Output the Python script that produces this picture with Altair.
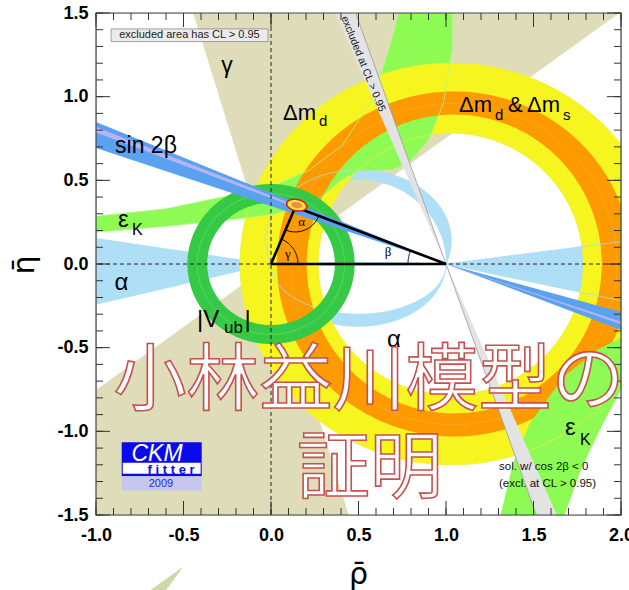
import numpy as np
import pandas as pd
import altair as alt

W, H = 525, 502
RHO_DOMAIN = [-1.0, 2.0]
ETA_DOMAIN = [-1.5, 1.5]
X_LABELS = [-1.0, -0.5, 0.0, 0.5, 1.0, 1.5, 2.0]
Y_LABELS = [-1.5, -1.0, -0.5, 0.0, 0.5, 1.0, 1.5]
X_MINOR = list(np.round(np.arange(-1.0, 2.001, 0.1), 1))
Y_MINOR = list(np.round(np.arange(-1.5, 1.501, 0.1), 1))

# colours
C_GAMMA = '#dfdcb9'
C_ALPHA = '#aedff7'
C_DMD = '#f6f520'
C_DMS = '#fd9a00'
C_EPS = '#8dfb53'
C_VUB = '#35c945'
C_S2B = '#5aa2f0'
C_S2B_IN = '#b4b4f6'
C_GRAY = '#e3e3e3'

# constraint shapes
GAMMA_EDGES = [37.0, 106.5]            # wedge from (0,0), mirrored by +180
DMD_OUTER = [1.03, 1.207, 1.20]        # centre rho, half-axis rho, half-axis eta
DMD_INNER = [1.027, 0.757, 0.782]
DMS_OUTER = [1.047, 1.013, 1.031]
DMS_INNER = [1.047, 0.843, 0.893]
DMD_TOP_ARC = [45.0, 125.0]
VUB_RADII = [0.365, 0.478]
S2B_LEFT = [19.1, 23.0]                # wedge through (1,0), upper-left side
S2B_RIGHT = [16.0, 21.5]               # lower-right side
S2B_CORE_LEFT = [21.45, 22.25]
S2B_CORE_RIGHT = [19.0, 19.8]
COS2B_EDGES = [109.0, 112.9]
# eps_K bands: edge points (rho, eta)
EPSK_UP_TOP_RHO = [-1.05, -1.0, -0.6, -0.234, 0.0, 0.217, 0.408, 0.579, 0.674, 0.731, 0.75]
EPSK_UP_TOP_ETA = [0.28, 0.285, 0.33, 0.41, 0.46, 0.56, 0.71, 0.981, 1.279, 1.504, 1.6]
EPSK_UP_BOT_RHO = [1.05, 1.036, 1.036, 0.985, 0.90, 0.80, 0.70, 0.60, 0.50, 0.40, 0.30, 0.217, 0.0, -0.234, -0.6, -1.0, -1.05]
EPSK_UP_BOT_ETA = [1.6, 1.504, 1.279, 0.96, 0.74, 0.62, 0.565, 0.56, 0.555, 0.50, 0.41, 0.35, 0.295, 0.264, 0.225, 0.19, 0.186]
EPSK_LO_A_RHO = [1.29, 1.31, 1.383, 1.48, 1.674, 1.869, 2.0, 2.05]
EPSK_LO_A_ETA = [-1.6, -1.51, -1.19, -0.95, -0.673, -0.51, -0.44, -0.42]
EPSK_LO_B_RHO = [2.05, 2.0, 1.88, 1.771, 1.674, 1.65]
EPSK_LO_B_ETA = [-0.72, -0.75, -0.989, -1.228, -1.51, -1.6]
ALPHA_LEFT = [171.2, 193.7]            # wedge from (0,0)
ALPHA_RIGHT = [-12.4, 7.6]             # wedge from (1,0)
ALPHA_UP_OUT = [0.5, 0.14, 0.53, 0.4228]   # centre rho, centre eta, half-axes
ALPHA_UP_IN = [0.5, 0.003, 0.5, 0.5]
ALPHA_LO_OUT = [0.5, 0.0, 0.5, 0.375]
ALPHA_LO_IN = [0.5, 0.0, 0.5, 0.300]
ALPHA_LENS = [0.5, 0.0, 0.5, 0.012]
APEX = [0.139, 0.341]
FIT_ELLIPSE = [0.147, 0.352, 0.058, 0.034, -12.0]
FIT_CORE = [0.147, 0.352, 0.032, 0.018, -12.0]

xs = alt.Scale(domain=RHO_DOMAIN, nice=False, zero=False)
ys = alt.Scale(domain=ETA_DOMAIN, nice=False, zero=False)
LBL = "replace(datum.label, '\u2212', '-')"
xaxis = alt.Axis(values=X_LABELS, format='.1f', labelExpr=LBL, ticks=False, tickSize=0, domain=False,
                 grid=False, labelFont='Liberation Sans', labelFontWeight='bold', labelFontSize=18,
                 labelColor='black', labelPadding=11, labelFlush=False, labelOverlap=False,
                 title='\u03c1\u0304', titleFont='DejaVu Sans', titleFontSize=30,
                 titleFontWeight='normal', titleColor='black', titleX=262, titleY=68,
                 titleBaseline='alphabetic', titleAlign='center')
yaxis = alt.Axis(values=Y_LABELS, format='.1f', labelExpr=LBL, ticks=False, tickSize=0, domain=False,
                 grid=False, labelFont='Liberation Sans', labelFontWeight='bold', labelFontSize=18,
                 labelColor='black', labelPadding=8, labelFlush=False, labelOverlap=False, title='')


def X(f='x'):
    return alt.X(f, type='quantitative', scale=xs, axis=xaxis)


def Y(f='y'):
    return alt.Y(f, type='quantitative', scale=ys, axis=yaxis)


def frame(pts):
    pts = np.asarray(pts, dtype=float)
    return pd.DataFrame({'x': pts[:, 0], 'y': pts[:, 1], 'i': np.arange(len(pts))})


def wedge(apex, a1, a2, R=4.0):
    t = np.radians(np.linspace(a1, a2, 12))
    return [apex] + [[apex[0] + R * np.cos(v), apex[1] + R * np.sin(v)] for v in t]


def ell(p, t):
    c, a, b = p
    return np.column_stack([c + a * np.cos(t), b * np.sin(t)])


def ring(outer, inner, t1=0.0, t2=360.0, n=360):
    t = np.radians(np.linspace(t1, t2, n))
    return np.vstack([ell(outer, t), ell(inner, t[::-1])])


def circ(r, n=360):
    t = np.radians(np.linspace(0, 360, n))
    return np.column_stack([r * np.cos(t), r * np.sin(t)])


def vring(r1, r2):
    return np.vstack([circ(r2), circ(r1)[::-1]])


def arc_through(p, upper=True, n=160):
    xc, yc, a, b = p
    t1 = np.arctan2(-yc / b, (1 - xc) / a)
    t2 = np.arctan2(-yc / b, (0 - xc) / a)
    if upper and t2 < t1:
        t2 += 2 * np.pi
    if (not upper) and t2 > t1:
        t2 -= 2 * np.pi
    t = np.linspace(t1, t2, n)
    return np.column_stack([xc + a * np.cos(t), yc + b * np.sin(t)])


def band_through(po, pi, upper=True):
    return np.vstack([arc_through(po, upper), arc_through(pi, upper)[::-1]])


def ellipse_rot(p, n=80):
    cx, cy, a, b, ang = p
    t = np.linspace(0, 2 * np.pi, n)
    ca, sa = np.cos(np.radians(ang)), np.sin(np.radians(ang))
    x = a * np.cos(t)
    y = b * np.sin(t)
    return np.column_stack([cx + x * ca - y * sa, cy + x * sa + y * ca])


def pts2(r, e):
    return np.column_stack([r, e])


layers = []


def poly(pts, color, stroke=None, sw=0.0, clip=True, interp='linear'):
    kw = dict(fill=color, clip=clip, interpolate=interp)
    if stroke is None:
        kw['strokeOpacity'] = 0
    else:
        kw['stroke'] = stroke
        kw['strokeWidth'] = sw
    layers.append(alt.Chart(frame(pts)).mark_line(**kw).encode(x=X(), y=Y(), order='i:Q'))


def pline(pts, color, sw=1.0, dash=None, clip=True, interp='linear', op=1.0):
    kw = dict(color=color, strokeWidth=sw, clip=clip, interpolate=interp, opacity=op)
    if dash:
        kw['strokeDash'] = dash
    layers.append(alt.Chart(frame(pts)).mark_line(**kw).encode(x=X(), y=Y(), order='i:Q'))


o = [0.0, 0.0]
b0 = [1.0, 0.0]
eps_up = np.vstack([pts2(EPSK_UP_TOP_RHO, EPSK_UP_TOP_ETA), pts2(EPSK_UP_BOT_RHO, EPSK_UP_BOT_ETA)])
eps_lo = np.vstack([pts2(EPSK_LO_A_RHO, EPSK_LO_A_ETA), pts2(EPSK_LO_B_RHO, EPSK_LO_B_ETA)])
alpha_up = band_through(ALPHA_UP_OUT, ALPHA_UP_IN, True)
alpha_lo = band_through(ALPHA_LO_OUT, ALPHA_LO_IN, False)

# gamma
poly(wedge(o, GAMMA_EDGES[0], GAMMA_EDGES[1]), C_GAMMA)
poly(wedge(o, GAMMA_EDGES[0] + 180, GAMMA_EDGES[1] + 180), C_GAMMA)
# alpha
poly(wedge(o, ALPHA_LEFT[0], ALPHA_LEFT[1]), C_ALPHA)
poly(wedge(b0, ALPHA_RIGHT[0], ALPHA_RIGHT[1]), C_ALPHA)
poly(alpha_up, C_ALPHA)
poly(alpha_lo, C_ALPHA)
poly(np.vstack([arc_through(ALPHA_LENS, True), arc_through(ALPHA_LENS, False)[::-1]]), C_ALPHA)
# delta m_d
poly(ring(DMD_OUTER, DMD_INNER), C_DMD)
# eps_K upper branch
poly(eps_up, C_EPS)
# yellow outer strip over eps_K at the top
poly(ring(DMD_OUTER, [DMS_OUTER[0], 0.95, 0.97], DMD_TOP_ARC[0], DMD_TOP_ARC[1], 120), C_DMD)
# delta m_d & delta m_s
poly(ring(DMS_OUTER, DMS_INNER), C_DMS)
# eps_K lower branch
poly(eps_lo, C_EPS)

# thin contour lines drawn over the bands
t360 = np.radians(np.linspace(0, 360, 360))
pline(ell(DMD_OUTER, t360), '#eeee40', 0.8)
pline(ell(DMD_INNER, t360), '#eeee40', 0.8)
pline(ell([DMS_OUTER[0], 0.93, 0.96], t360), '#f7b040', 0.7, op=0.8)
pline(pts2(EPSK_UP_TOP_RHO, EPSK_UP_TOP_ETA), '#b4f58a', 0.8)
pline(pts2(EPSK_UP_BOT_RHO, EPSK_UP_BOT_ETA), '#b4f58a', 0.8)
pline(arc_through(ALPHA_UP_OUT, True), '#a8dcf6', 0.8)
pline(arc_through(ALPHA_LO_IN, False), '#a8dcf6', 0.8)
pline([[1, 0], [1 + 4 * np.cos(np.radians(ALPHA_RIGHT[1])), 4 * np.sin(np.radians(ALPHA_RIGHT[1]))]], '#a8dcf6', 0.8)
pline([[1, 0], [1 + 4 * np.cos(np.radians(ALPHA_RIGHT[0])), 4 * np.sin(np.radians(ALPHA_RIGHT[0]))]], '#a8dcf6', 0.8)

# cos 2beta < 0 solution (grey)
poly(wedge(b0, COS2B_EDGES[0], COS2B_EDGES[1]), C_GRAY, '#9a9a9a', 0.8)
poly(wedge(b0, COS2B_EDGES[0] - 180, COS2B_EDGES[1] - 180), C_GRAY, '#9a9a9a', 0.8)
# V_ub
poly(vring(VUB_RADII[0], VUB_RADII[1]), C_VUB)
pline(circ(0.42), '#7ee07a', 0.7, op=0.8)
# sin 2 beta
poly(wedge(b0, 180 - S2B_LEFT[1], 180 - S2B_LEFT[0]), C_S2B)
poly(wedge(b0, -S2B_RIGHT[1], -S2B_RIGHT[0]), C_S2B)
poly(wedge(b0, 180 - S2B_CORE_LEFT[1], 180 - S2B_CORE_LEFT[0]), C_S2B_IN)
poly(wedge(b0, -S2B_CORE_RIGHT[1], -S2B_CORE_RIGHT[0]), C_S2B_IN)

# dashed axes
layers.append(alt.Chart(pd.DataFrame({'x': [0.0]})).mark_rule(color='#222', strokeWidth=1, strokeDash=[4, 3]).encode(x=X()))
layers.append(alt.Chart(pd.DataFrame({'y': [0.0]})).mark_rule(color='#222', strokeWidth=1, strokeDash=[4, 3]).encode(y=Y()))

# unitarity triangle
pline([[0, 0], APEX, [1, 0], [0, 0]], 'black', 2.6)
ang_a = np.degrees(np.arctan2(APEX[1], APEX[0]))
t = np.radians(np.linspace(0, ang_a, 30))
pline(np.column_stack([27 / 175 * np.cos(t), 27 / 167.5 * np.sin(t)]), 'black', 1.0)
d1 = np.degrees(np.arctan2(-APEX[1] * 167.5, -APEX[0] * 175))
d2 = np.degrees(np.arctan2(-APEX[1] * 167.5, (1 - APEX[0]) * 175))
t = np.radians(np.linspace(d1, d2, 30))
pline(np.column_stack([APEX[0] + 25 / 175 * np.cos(t), APEX[1] + 25 / 167.5 * np.sin(t)]), 'black', 1.0)
bb = np.degrees(np.arctan2(APEX[1] * 167.5, (APEX[0] - 1) * 175))
t = np.radians(np.linspace(bb, 180, 30))
pline(np.column_stack([1 + 38 / 175 * np.cos(t), 38 / 167.5 * np.sin(t)]), 'black', 1.0)

# fit result
poly(ellipse_rot(FIT_ELLIPSE), '#f4ea30', '#e01818', 1.6)
poly(ellipse_rot(FIT_CORE), '#f08a50')

# boxes
box = pd.DataFrame({'x': [-0.914], 'x2': [-0.017], 'y': [1.405], 'y2': [1.329]})
layers.append(alt.Chart(box).mark_rect(fill='#ebebeb', stroke='#8a8a8a', strokeWidth=0.8).encode(
    x=X(), x2='x2', y=Y(), y2='y2'))
logo = pd.DataFrame({'x': [-0.853, -0.847, -0.853], 'x2': [-0.396, -0.402, -0.396],
                     'y': [-1.065, -1.188, -1.268], 'y2': [-1.268, -1.254, -1.353],
                     'c': ['#0a0aee', '#ffffff', '#c6c6ee']})
layers.append(alt.Chart(logo).mark_rect().encode(x=X(), x2='x2', y=Y(), y2='y2',
                                                 fill=alt.Fill('c:N', scale=None)))

# labels
LABELS = [
    # text, rho, eta, size, font, style, weight, align, color
    ['\u03b3', -0.251, 1.142, 23, 'Liberation Sans', 'normal', 'normal', 'center', 'black'],
    ['\u0394m', 0.069, 0.861, 22, 'Liberation Sans', 'normal', 'normal', 'left', 'black'],
    ['d', 0.274, 0.826, 15, 'Liberation Sans', 'normal', 'normal', 'left', 'black'],
    ['\u0394m', 1.074, 0.909, 22, 'Liberation Sans', 'normal', 'normal', 'left', 'black'],
    ['d', 1.280, 0.861, 15, 'Liberation Sans', 'normal', 'normal', 'left', 'black'],
    ['&', 1.354, 0.909, 22, 'Liberation Sans', 'normal', 'normal', 'left', 'black'],
    ['\u0394m', 1.463, 0.909, 22, 'Liberation Sans', 'normal', 'normal', 'left', 'black'],
    ['s', 1.668, 0.861, 15, 'Liberation Sans', 'normal', 'normal', 'left', 'black'],
    ['sin 2\u03b2', -0.891, 0.665, 23, 'Liberation Sans', 'normal', 'normal', 'left', 'black'],
    ['\u03b5', -0.874, 0.223, 24, 'Liberation Sans', 'normal', 'normal', 'left', 'black'],
    ['K', -0.794, 0.175, 16, 'Liberation Sans', 'normal', 'normal', 'left', 'black'],
    ['\u03b5', 1.680, -1.019, 24, 'Liberation Sans', 'normal', 'normal', 'left', 'black'],
    ['K', 1.766, -1.079, 16, 'Liberation Sans', 'normal', 'normal', 'left', 'black'],
    ['\u03b1', -0.854, -0.153, 24, 'Liberation Sans', 'normal', 'normal', 'center', 'black'],
    ['\u03b1', 0.703, -0.494, 24, 'Liberation Sans', 'normal', 'normal', 'center', 'black'],
    ['|V', -0.423, -0.376, 24, 'Liberation Sans', 'normal', 'normal', 'left', 'black'],
    ['ub', -0.269, -0.412, 17, 'Liberation Sans', 'normal', 'normal', 'left', 'black'],
    ['|', -0.152, -0.376, 24, 'Liberation Sans', 'normal', 'normal', 'left', 'black'],
    ['\u03b3', 0.097, 0.035, 13, 'Liberation Serif', 'normal', 'normal', 'center', 'black'],
    ['\u03b1', 0.175, 0.225, 13, 'Liberation Serif', 'normal', 'normal', 'center', 'black'],
    ['\u03b2', 0.669, 0.045, 13, 'Liberation Serif', 'normal', 'normal', 'center', 'black'],
    ['sol. w/ cos 2\u03b2 < 0', 1.303, -1.234, 11.5, 'Liberation Sans', 'normal', 'normal', 'left', '#111'],
    ['(excl. at CL > 0.95)', 1.303, -1.330, 11.5, 'Liberation Sans', 'normal', 'normal', 'left', '#111'],
    ['CKM', -0.651, -1.180, 23, 'Liberation Sans', 'italic', 'normal', 'center', 'white'],
    ['f i t t e r', -0.571, -1.252, 13, 'Liberation Sans', 'normal', 'bold', 'center', '#0a0aee'],
    ['2009', -0.629, -1.331, 11, 'Liberation Sans', 'normal', 'normal', 'center', '#2a2ad0'],
]
for txt, r, e, sz, fnt, sty, wt, al, col in LABELS:
    df = pd.DataFrame({'x': [r], 'y': [e], 't': [txt]})
    layers.append(alt.Chart(df).mark_text(fontSize=sz, font=fnt, fontStyle=sty, fontWeight=wt, align=al,
                                          baseline='alphabetic', color=col).encode(x=X(), y=Y(), text='t:N'))

mid = pd.DataFrame({'x': [-0.466, 0.526], 'y': [1.366, 1.196],
                    't': ['excluded area has CL > 0.95', 'excluded at CL > 0.95']})
layers.append(alt.Chart(mid.iloc[[0]]).mark_text(fontSize=11, font='Liberation Sans', baseline='middle',
                                                 color='#222').encode(x=X(), y=Y(), text='t:N'))
layers.append(alt.Chart(mid.iloc[[1]]).mark_text(fontSize=10.5, font='Liberation Sans', baseline='middle',
                                                 angle=68, color='#222').encode(x=X(), y=Y(), text='t:N'))

# ticks
TL_MAJ, TL_MIN = 14, 7
for vals, L in [(X_LABELS, TL_MAJ), (X_MINOR, TL_MIN)]:
    d = pd.DataFrame({'x': vals})
    layers.append(alt.Chart(d).mark_rule(color='#333', strokeWidth=1).encode(x=X(), y=alt.value(H), y2=alt.value(H - L)))
    layers.append(alt.Chart(d).mark_rule(color='#333', strokeWidth=1).encode(x=X(), y=alt.value(0), y2=alt.value(L)))
for vals, L in [(Y_LABELS, TL_MAJ), (Y_MINOR, TL_MIN)]:
    d = pd.DataFrame({'y': vals})
    layers.append(alt.Chart(d).mark_rule(color='#333', strokeWidth=1).encode(y=Y(), x=alt.value(0), x2=alt.value(L)))
    layers.append(alt.Chart(d).mark_rule(color='#333', strokeWidth=1).encode(y=Y(), x=alt.value(W), x2=alt.value(W - L)))
layers.append(alt.Chart(pd.DataFrame({'a': [0]})).mark_rect(fillOpacity=0, stroke='#444', strokeWidth=1.2).encode(
    x=alt.value(0), x2=alt.value(W), y=alt.value(0), y2=alt.value(H)))

# y axis title
layers.append(alt.Chart(pd.DataFrame({'t': ['\u03b7\u0304']})).mark_text(
    fontSize=30, font='DejaVu Sans', angle=270, align='center', baseline='middle', color='black').encode(
    x=alt.value(-71), y=alt.value(252), text='t:N'))

# big overlay text
JP = pd.DataFrame({'x': [0.56, 0.565], 'y': [-0.834, -1.3606], 't': ['小林益川模型の', '証明']})
layers.append(alt.Chart(JP).mark_text(fontSize=73, font='Noto Sans CJK JP', fill='white', stroke='#c85050',
                                      strokeWidth=1.6, align='center', baseline='alphabetic').encode(
    x=X(), y=Y(), text='t:N'))

# stray wedge below the frame
poly([[-0.502, -1.81], [-0.69, -1.95], [-0.60, -1.95]], '#cbd9a6', clip=False)

chart = alt.layer(*layers).properties(
    width=W, height=H, autosize=alt.AutoSizeParams(type='none'),
    padding={'left': 96, 'top': 13, 'right': 8, 'bottom': 75}
).configure_view(strokeWidth=0).configure(background='white')

chart.save('out.html', embed_options={'renderer': 'svg', 'actions': False})
